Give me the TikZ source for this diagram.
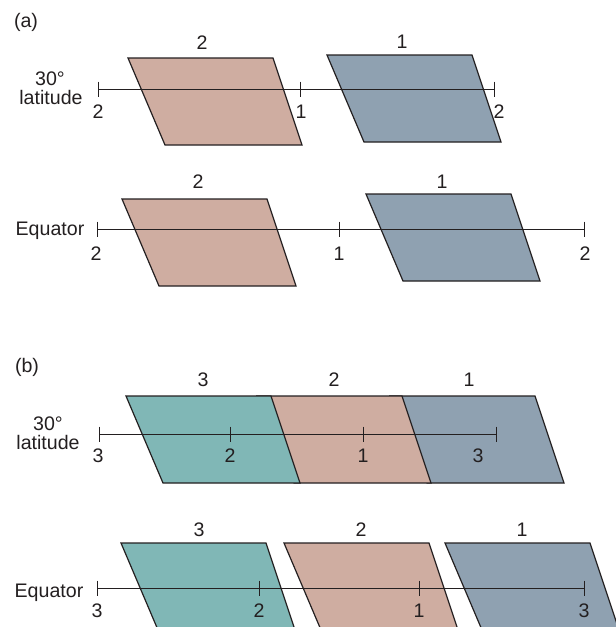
\documentclass[tikz,border=0pt]{standalone}
\usepackage{fontspec}
\setmainfont{Liberation Sans}
\definecolor{pinkplate}{RGB}{207,173,161}
\definecolor{blueplate}{RGB}{143,161,177}
\definecolor{tealplate}{RGB}{128,183,182}
\definecolor{ink}{RGB}{35,31,32}
\tikzset{
  plateedge/.style={draw=ink, line width=0.6pt, line join=miter},
  axisline/.style={draw=ink, line width=0.5pt},
  lbl/.style={font=\fontsize{9.8}{11}\selectfont, text=ink, inner sep=0pt, anchor=base},
  side/.style={font=\fontsize{9.8}{11}\selectfont, text=ink, inner sep=0pt, anchor=base},
}
\newcommand{\plate}[4]{\filldraw[plateedge,fill=#4] (#1,#2) -- ++(145,0) -- ++(29,87) -- ++(-137,0) -- cycle;}
\newcommand{\axtick}[2]{\draw[axisline] (#1,#2) ++(0,-7.5) -- ++(0,15);}
\begin{document}
\begin{tikzpicture}[x=0.5pt,y=-0.5pt]
\useasboundingbox (0,0) rectangle (616,627);
\clip (0,0) rectangle (616,627);

% ---------------- (a) ----------------
\node[side] (alabel) at (26,27) {(a)};

% 30 deg latitude row
\plate{128}{58}{}{pinkplate}
\plate{327}{55}{}{blueplate}
\coordinate (a1L) at (98,89);
\coordinate (a1R) at (494,89);
\draw[axisline] (a1L) -- (a1R);
\axtick{98}{89}\axtick{300}{89}\axtick{494}{89}
\node[lbl] (a1t2) at (202,49) {2};
\node[lbl] (a1t1) at (402,48) {1};
\node[lbl] (a1b2l) at (98,118) {2};
\node[lbl] (a1b1) at (301,118) {1};
\node[lbl] (a1b2r) at (499,118) {2};
\node[side] (a1deg) at (50,85) {30°};
\node[side] (a1lat) at (51,104) {latitude};

% Equator row
\plate{122}{199}{}{pinkplate}
\plate{366}{194}{}{blueplate}
\coordinate (a2L) at (97,229);
\coordinate (a2R) at (584,229);
\draw[axisline] (a2L) -- (a2R);
\axtick{97}{229}\axtick{339}{229}\axtick{584}{229}
\node[lbl] (a2t2) at (198,188) {2};
\node[lbl] (a2t1) at (442,188) {1};
\node[lbl] (a2b2l) at (96,260) {2};
\node[lbl] (a2b1) at (339,260) {1};
\node[lbl] (a2b2r) at (585,260) {2};
\node[side] (a2eq) at (50,235) {Equator};

% ---------------- (b) ----------------
\node[side] (blabel) at (27,372) {(b)};

% 30 deg latitude row
\plate{390}{396}{}{blueplate}
\plate{257}{396}{}{pinkplate}
\plate{126}{396}{}{tealplate}
\coordinate (b1L) at (99,434);
\coordinate (b1R) at (496,434);
\draw[axisline] (b1L) -- (b1R);
\axtick{99}{434}\axtick{230}{434}\axtick{363}{434}\axtick{496}{434}
\node[lbl] (b1t3) at (203,386) {3};
\node[lbl] (b1t2) at (334,386) {2};
\node[lbl] (b1t1) at (469,386) {1};
\node[lbl] (b1b3l) at (98,462) {3};
\node[lbl] (b1b2) at (230,462) {2};
\node[lbl] (b1b1) at (363,462) {1};
\node[lbl] (b1b3r) at (478,462) {3};
\node[side] (b1deg) at (48,430) {30°};
\node[side] (b1lat) at (48,449) {latitude};

% Equator row
\plate{121}{543}{}{tealplate}
\plate{284}{543}{}{pinkplate}
\plate{445}{543}{}{blueplate}
\coordinate (b2L) at (97,588);
\coordinate (b2R) at (584,588);
\draw[axisline] (b2L) -- (b2R);
\axtick{97}{588}\axtick{259}{588}\axtick{419}{588}\axtick{584}{588}
\node[lbl] (b2t3) at (199,536) {3};
\node[lbl] (b2t2) at (361,536) {2};
\node[lbl] (b2t1) at (522,536) {1};
\node[lbl] (b2b3l) at (97,617) {3};
\node[lbl] (b2b2) at (259,617) {2};
\node[lbl] (b2b1) at (419,617) {1};
\node[lbl] (b2b3r) at (584,617) {3};
\node[side] (b2eq) at (49,597) {Equator};
\end{tikzpicture}
\end{document}
